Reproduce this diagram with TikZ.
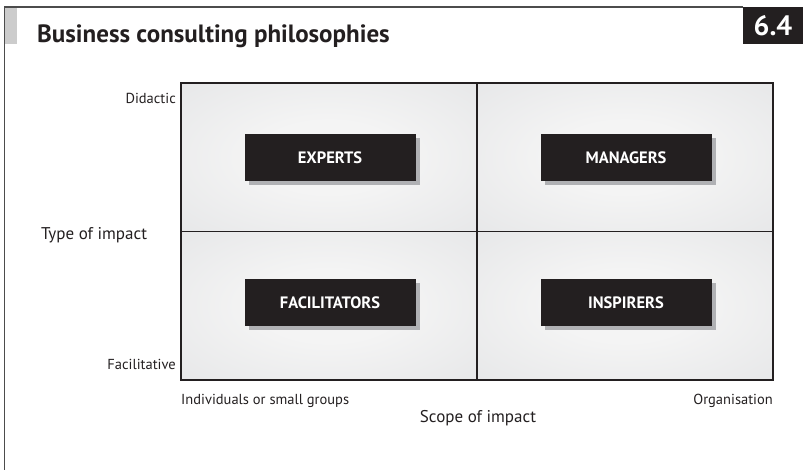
\documentclass[tikz,border=0pt]{standalone}
\usepackage{fontspec}
\setmainfont{PT Sans}
\usepackage{xcolor}
\usetikzlibrary{shadows}

\definecolor{quadedge}{HTML}{DFE0E2}
\definecolor{quadmid}{HTML}{F4F4F4}
\definecolor{inkgray}{HTML}{231F20}
\definecolor{shadowgray}{HTML}{B0B1B4}
\pgfdeclareradialshading{quadshade}{\pgfpoint{0bp}{0bp}}{color(0bp)=(quadmid); color(12bp)=(quadmid);
  color(50bp)=(quadedge); color(75bp)=(quadedge)}

\tikzset{
  labelbox/.style={fill=inkgray, text=white, inner sep=0pt,
    font=\bfseries\fontsize{16.5}{18}\selectfont,
    minimum width=171pt, minimum height=47pt,
    drop shadow={shadow xshift=4pt, shadow yshift=-4pt, fill=shadowgray, opacity=1}},
  quadrant/.style={shading=quadshade, draw=inkgray, line width=1.2pt},
  axislabel/.style={inner sep=0pt, text=inkgray, font=\fontsize{14.5}{16}\selectfont},
  axistitle/.style={inner sep=0pt, text=inkgray, font=\fontsize{17}{19}\selectfont}
}

\begin{document}
\begin{tikzpicture}[x=1pt,y=-1pt]
\useasboundingbox (0,0) rectangle (803,470);
\draw[black!70, line width=1.6pt] (4.5,470) -- (4.5,7) -- (743,7);
\fill[black!20] (5.3,7.8) rectangle (17,44);
\node[fill=inkgray, text=white, inner sep=0pt, minimum width=60pt, minimum height=37pt,
  font=\bfseries\fontsize{28}{30}\selectfont] (number) at (773,25.5) {6.4};
\node[anchor=base west, inner sep=0pt, text=inkgray,
  font=\bfseries\fontsize{25}{28}\selectfont] (title) at (37,43) {Business consulting philosophies};
\foreach \i/\j/\by/\name/\lab in {0/0/158/experts/EXPERTS, 1/0/158/managers/MANAGERS,
  0/1/302.5/facilitators/FACILITATORS, 1/1/302.5/inspirers/INSPIRERS}{
\draw[quadrant] (181+296*\i,83+148.5*\j) rectangle ++(296,148.5);
\node[labelbox] (\name) at (181+296*\i+149,\by) {\lab};
}
\node[axislabel, anchor=base east] (didactic) at (176,104) {Didactic};
\node[axislabel, anchor=base east] (facilitative) at (176,369) {Facilitative};
\node[axistitle, anchor=base west] (typeimpact) at (41,240) {Type of impact};
\node[axislabel, anchor=base west] (individuals) at (181,404) {Individuals or small groups};
\node[axislabel, anchor=base east] (organisation) at (773,404) {Organisation};
\node[axistitle, anchor=base] (scopeimpact) at (478,422) {Scope of impact};
\end{tikzpicture}
\end{document}
